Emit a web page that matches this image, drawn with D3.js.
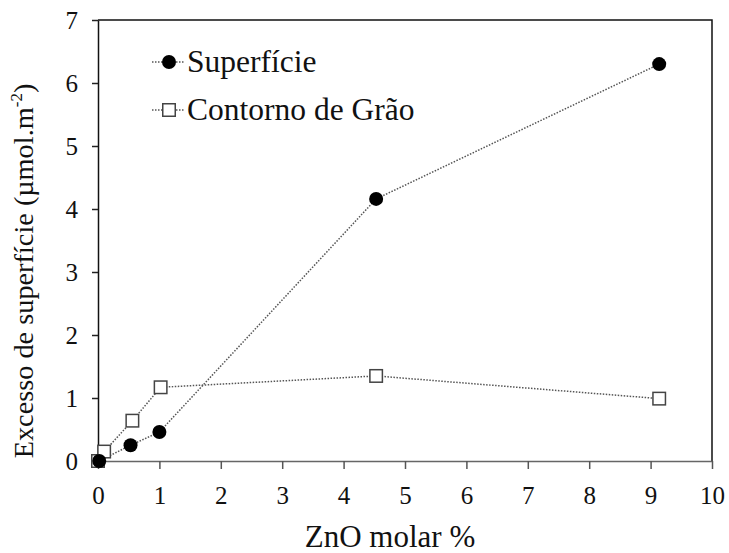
<!DOCTYPE html>
<html>
<head>
<meta charset="utf-8">
<script src="https://cdn.jsdelivr.net/npm/d3@7"></script>
</head>
<body style="margin:0">
<svg id="chart" width="729" height="553"></svg>
<script>
// ZnO content (molar %) and surface excess values
const superficieX = [0.02, 0.53, 1.0, 4.53, 9.14];
const superficieY = [0.0, 0.25, 0.46, 4.16, 6.30];
const contornoX = [0.0, 0.1, 0.56, 1.02, 4.53, 9.14];
const contornoY = [0.0, 0.15, 0.64, 1.17, 1.35, 0.99];
const xTicks = [0, 1, 2, 3, 4, 5, 6, 7, 8, 9, 10];
const yTicks = [0, 1, 2, 3, 4, 5, 6, 7];
const seriesNames = ["Superfície", "Contorno de Grão"];

const FONT = "Liberation Serif";
const svg = d3.select("#chart");
const margin = { left: 98, right: 17, top: 20, bottom: 92 };
const W = 729, H = 553;

const x = d3.scaleLinear().domain([0, 10]).range([margin.left, W - margin.right]);
const y = d3.scaleLinear().domain([0, 7]).range([H - margin.bottom, margin.top]);

// frame (top and right edges)
svg.append("path")
  .attr("d", `M${x(0)},${y(7)}H${x(10)}V${y(0)}`)
  .attr("fill", "none").attr("stroke", "#111").attr("stroke-width", 1.5);

// axes
const xAxis = svg.append("g").attr("transform", `translate(0,${y(0)})`)
  .call(d3.axisBottom(x).tickValues(xTicks).tickSize(8).tickPadding(17).tickSizeOuter(0).tickFormat(d3.format("d")));
const yAxis = svg.append("g").attr("transform", `translate(${x(0)},0)`)
  .call(d3.axisLeft(y).tickValues(yTicks).tickSize(6).tickPadding(14).tickSizeOuter(0).tickFormat(d3.format("d")));
xAxis.attr("font-family", null).attr("font-size", null);
yAxis.attr("font-family", null).attr("font-size", null);
xAxis.select(".domain").attr("stroke", "#666").attr("stroke-width", 1.5);
xAxis.selectAll(".tick line").attr("stroke", "#555").attr("stroke-width", 1.5);
yAxis.select(".domain").attr("stroke", "#111").attr("stroke-width", 1.5);
yAxis.selectAll(".tick line").attr("stroke", "#222").attr("stroke-width", 1.5);
[xAxis, yAxis].forEach(g => {
  g.selectAll(".tick text").style("font-family", FONT).style("font-size", "25px").attr("fill", "#111");
});
yAxis.selectAll(".tick text").attr("dy", "0.34em");

// axis titles
svg.append("text")
  .attr("x", 390).attr("y", 547)
  .attr("text-anchor", "middle")
  .style("font-family", FONT).style("font-size", "31px").attr("fill", "#111")
  .text("ZnO molar %");

const yt = svg.append("text")
  .attr("transform", `translate(33,271) rotate(-90)`)
  .attr("text-anchor", "middle")
  .style("font-family", FONT).style("font-size", "28.3px").attr("fill", "#111");
yt.append("tspan").text("Excesso de superfície (µmol.m");
yt.append("tspan").style("font-size", "17px").attr("dy", -11).text("-2");
yt.append("tspan").attr("dy", 11).text(")");

const line = d3.line().x(d => x(d[0])).y(d => y(d[1]));
const supData = superficieX.map((v, i) => [v, superficieY[i]]);
const conData = contornoX.map((v, i) => [v, contornoY[i]]);

function dotted(sel) {
  return sel.attr("fill", "none").attr("stroke", "#555").attr("stroke-width", 1.5)
    .attr("stroke-dasharray", "1.5,1.5");
}

dotted(svg.append("path").datum(conData).attr("d", line));
dotted(svg.append("path").datum(supData).attr("d", line));

const sq = 12.5;
svg.append("g").selectAll("rect").data(conData).join("rect")
  .attr("x", d => x(d[0]) - sq / 2).attr("y", d => y(d[1]) - sq / 2)
  .attr("width", sq).attr("height", sq)
  .attr("fill", "#fff").attr("stroke", "#444").attr("stroke-width", 1.5);

svg.append("g").selectAll("circle").data(supData).join("circle")
  .attr("cx", d => x(d[0])).attr("cy", d => y(d[1])).attr("r", 7)
  .attr("fill", "#000");

// legend
const legend = svg.append("g");
const lx0 = 152, lx1 = 185, lmid = 169;
[62, 110].forEach((ly, i) => {
  dotted(legend.append("line").attr("x1", lx0).attr("x2", lx1).attr("y1", ly).attr("y2", ly));
  if (i === 0) {
    legend.append("circle").attr("cx", lmid).attr("cy", ly).attr("r", 7).attr("fill", "#000");
  } else {
    legend.append("rect").attr("x", lmid - sq / 2).attr("y", ly - sq / 2)
      .attr("width", sq).attr("height", sq)
      .attr("fill", "#fff").attr("stroke", "#444").attr("stroke-width", 1.5);
  }
  legend.append("text").attr("x", 187).attr("y", ly + 10)
    .style("font-family", FONT).style("font-size", "31.5px").attr("fill", "#111")
    .text(seriesNames[i]);
});
</script>
</body>
</html>
